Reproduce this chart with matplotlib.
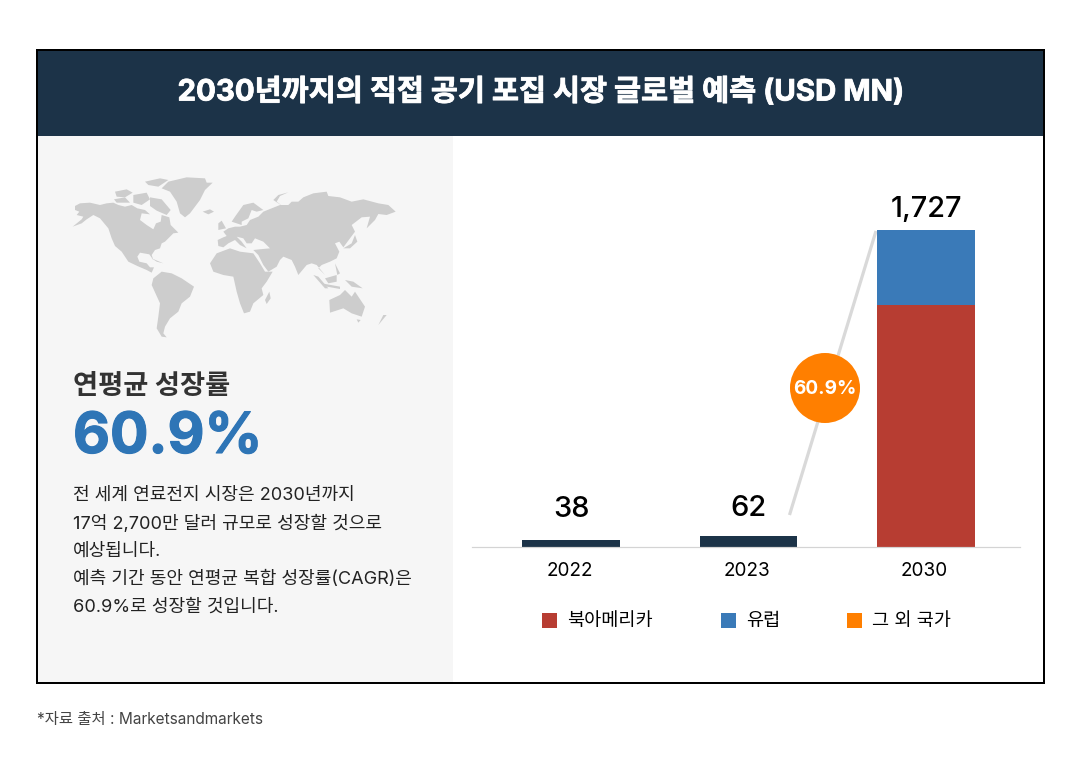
"""Direct air capture market forecast card"""

from matplotlib import pyplot as plt
from matplotlib import patheffects
from matplotlib.patches import Circle, Polygon, Rectangle
from matplotlib.transforms import ScaledTranslation

plt.rcParams["font.family"] = ["Inter", "Noto Sans CJK KR", "DejaVu Sans"]

# Chart values
years = ["2022", "2023", "2030"]
totals = [38, 62, 1727]
north_america = [0, 0, 1318]
europe = [0, 0, 409]
total_labels = ["38", "62", "1,727"]
legend_names = ["북아메리카", "유럽", "그 외 국가"]

title = "2030년까지의 직접 공기 포집 시장 글로벌 예측 (USD MN)"
heading = "연평균 성장률"
big_number = "60.9%"
body_lines = [
    "전 세계 연료전지 시장은 2030년까지",
    "17억 2,700만 달러 규모로 성장할 것으로",
    "예상됩니다.",
    "예측 기간 동안 연평균 복합 성장률(CAGR)은",
    "60.9%로 성장할 것입니다.",
]
source = "*자료 출처 : Marketsandmarkets"

# Rough map outlines
north_america_map = [(75, 138), (90, 130), (120, 128), (150, 135), (170, 130), (190, 128), (205, 135),
                     (225, 140), (245, 135), (262, 145), (285, 150), (300, 163), (275, 160), (270, 180),
                     (290, 195), (310, 208), (318, 190), (332, 185), (335, 165), (358, 172), (362, 195),
                     (385, 218), (370, 220), (355, 235), (345, 245), (335, 250), (330, 265), (315, 270),
                     (305, 285), (310, 300), (298, 283), (270, 278), (262, 290), (268, 305), (290, 310),
                     (300, 322), (312, 322), (305, 338), (290, 330), (262, 318), (235, 305), (215, 275),
                     (195, 258), (185, 235), (175, 205), (150, 175), (130, 165), (110, 178), (95, 190),
                     (68, 200), (95, 178), (100, 170), (80, 165), (88, 155), (75, 150)]
greenland = [(355, 65), (410, 52), (465, 55), (470, 68), (488, 68), (465, 90), (450, 120),
             (420, 160), (405, 172), (390, 160), (380, 125), (360, 95), (335, 85)]
ellesmere = [(285, 65), (330, 55), (355, 60), (325, 80), (295, 75)]
banks = [(195, 95), (230, 88), (248, 98), (225, 112), (200, 110)]
victoria = [(192, 118), (225, 112), (240, 128), (200, 128)]
somerset = [(250, 105), (290, 98), (300, 118), (275, 135), (250, 128)]
baffin = [(300, 112), (335, 118), (362, 150), (350, 165), (320, 152), (300, 138)]
iceland = [(458, 155), (480, 148), (492, 155), (475, 163)]
south_america = [(310, 355), (335, 335), (365, 340), (395, 355), (432, 380), (420, 410),
                 (395, 430), (385, 455), (360, 475), (345, 500), (340, 520), (350, 532),
                 (335, 530), (320, 505), (325, 470), (330, 430), (305, 375)]
africa = [(480, 310), (500, 280), (540, 265), (570, 275), (610, 280), (630, 310), (645, 335),
          (668, 335), (650, 365), (635, 385), (640, 405), (610, 430), (600, 455), (582, 460),
          (570, 430), (560, 395), (550, 350), (520, 345), (490, 335)]
madagascar = [(658, 395), (662, 415), (650, 432), (645, 420)]
eurasia = [(503, 240), (520, 232), (530, 228), (520, 215), (535, 205), (555, 200), (570, 200),
           (590, 195), (600, 180), (625, 170), (640, 155), (665, 145), (690, 135), (715, 135),
           (725, 125), (745, 125), (760, 112), (790, 100), (830, 95), (835, 108), (870, 112),
           (905, 125), (940, 118), (985, 130), (1015, 135), (1037, 155), (1010, 165), (985, 162),
           (975, 180), (950, 205), (960, 170), (935, 172), (905, 195), (915, 215), (900, 235),
           (880, 262), (868, 245), (855, 250), (868, 275), (860, 295), (840, 305), (815, 315),
           (805, 325), (825, 345), (800, 315), (785, 310), (770, 315), (745, 345), (735, 320),
           (725, 300), (700, 290), (690, 300), (680, 320), (655, 335), (640, 315), (625, 285),
           (610, 270), (628, 268), (660, 265), (640, 245), (615, 235), (605, 250), (590, 250),
           (580, 235), (560, 230), (575, 245), (590, 265), (570, 255), (555, 240), (535, 250),
           (520, 262), (505, 258)]
scandinavia = [(545, 185), (555, 170), (580, 135), (610, 128), (640, 150), (620, 155), (605, 150),
               (595, 175), (575, 185), (575, 195), (560, 190)]
britain = [(505, 190), (515, 182), (528, 205), (505, 210)]
novaya = [(670, 120), (685, 105), (715, 97), (690, 108), (680, 125), (700, 140)]
japan = [(880, 265), (905, 250), (915, 225), (922, 245), (900, 265)]
sumatra = [(790, 345), (805, 350), (835, 385), (825, 385)]
java = [(815, 370), (870, 380), (870, 387), (820, 378)]
borneo = [(825, 355), (860, 345), (860, 365), (835, 370)]
philippines = [(855, 310), (870, 340), (862, 345)]
new_guinea = [(885, 360), (910, 365), (938, 385), (905, 380)]
australia = [(838, 420), (870, 405), (885, 390), (905, 410), (915, 395), (945, 440), (935, 470),
             (905, 460), (880, 445), (840, 458)]
tasmania = [(920, 478), (932, 480), (925, 488)]
new_zealand = [(1010, 465), (985, 495), (990, 485), (1000, 465)]
cuba = [(305, 295), (340, 310), (320, 305)]
map_shapes = [north_america_map, greenland, ellesmere, banks, victoria, somerset, baffin,
              iceland, south_america, africa, madagascar, eurasia, scandinavia, britain, novaya,
              japan, sumatra, java, borneo, philippines, new_guinea, australia,
              tasmania, new_zealand, cuba]

NAVY = "#1c3348"
RED = "#b73d32"
BLUE = "#3a7ab8"
ORANGE = "#ff7f00"


def px(size):
    """Pixels to points at dpi 100"""
    return size * 72 / 100


fig = plt.figure(figsize=(10.8, 7.68), dpi=100, facecolor="white")

# Full figure axes in pixel units for the card layout
card = fig.add_axes([0, 0, 1, 1])
card.set_xlim(0, 1080)
card.set_ylim(768, 0)
card.axis("off")

card.add_patch(Rectangle((37, 136), 415.5, 547, fc="#f6f6f6", ec="none"))
card.add_patch(Rectangle((37, 50), 1007, 86, fc=NAVY, ec="none"))
card.add_patch(Rectangle((37, 50), 1007, 633, fc="none", ec="black", lw=px(2)))
title_text = card.text(540.5, 92, title, color="white", fontsize=px(29.4), fontweight="bold",
                       ha="center", va="center")
title_text.set_path_effects([patheffects.withStroke(linewidth=0.6, foreground="white")])

for shape in map_shapes:
    points = [(50 + x / 3, 160 + y / 3) for x, y in shape]
    card.add_patch(Polygon(points, fc="#cdcdcd", ec="none"))

card.text(73, 387, heading, color="#333333", fontsize=px(27.3), fontweight="bold", va="center")
number_text = card.text(73, 438, big_number, color="#2e75b6", fontsize=px(57), fontweight="bold",
                        va="center")
number_text.set_path_effects([patheffects.withStroke(linewidth=0.8, foreground="#2e75b6")])
for i, line in enumerate(body_lines):
    card.text(73, 495.5 + i * 28, line, color="#222222", fontsize=px(18.1), va="center")
card.text(37, 719.5, source, color="#444444", fontsize=px(15.4), va="center")

# Bars on their own value scale
ax = fig.add_axes([472 / 1080, 1 - 547 / 768, 548 / 1080, 317 / 768])
ax.patch.set_alpha(0)
ax.set_xlim(-0.558, 2.53)
ax.set_ylim(0, 1727)
positions = [0, 1, 2]
small = [t if n == 0 else 0 for t, n in zip(totals, north_america)]
ax.bar(positions, small, width=0.552, color=NAVY)
ax.bar(positions, north_america, width=0.552, color=RED)
ax.bar(positions, europe, width=0.552, bottom=north_america, color=BLUE)
for pos, total, label, pad in zip(positions, totals, total_labels, [31, 27, 20]):
    ax.annotate(label, (pos, total), xytext=(0, px(pad)),
                textcoords="offset points", ha="center", va="center", fontweight=500,
                fontsize=px(29), color="black", annotation_clip=False)
ax.set_xticks(positions, years)
ax.tick_params(axis="x", length=0, pad=px(15), labelsize=px(19))
for tick_label in ax.get_xticklabels():
    tick_label.set_transform(tick_label.get_transform()
                             + ScaledTranslation(-1.5 / 100, 0, fig.dpi_scale_trans))
ax.set_yticks([])
for side in ["top", "left", "right"]:
    ax.spines[side].set_visible(False)
ax.spines["bottom"].set_color("#d4d4d4")
ax.spines["bottom"].set_linewidth(px(1.2))

# Growth connector and badge
card.plot([789.5, 876], [515, 231], color="#d9d9d9", lw=px(3.2), solid_capstyle="butt")
card.add_patch(Circle((825, 388), 35, fc=ORANGE, ec="none", zorder=5))
card.text(825, 389, big_number, color="white", fontsize=px(19), fontweight="bold",
          ha="center", va="center", zorder=6)

# Legend
for name, color, x in zip(legend_names, [RED, BLUE, ORANGE], [542, 721, 847]):
    card.add_patch(Rectangle((x, 613), 15, 15, fc=color, ec="none"))
    card.text(x + 25.5, 621.5, name, color="black", fontsize=px(18.6), va="center")

fig.savefig("out.png", dpi=100)
